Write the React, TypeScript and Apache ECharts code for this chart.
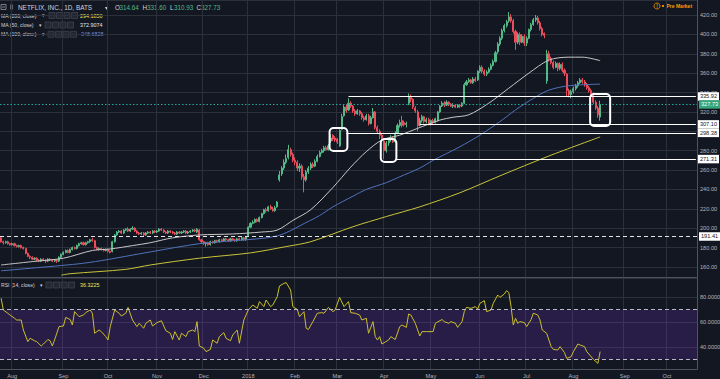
import React, { useEffect, useRef } from "react";
import * as echarts from "echarts";

// ---- axis / calendar data (trading-day index, 0 = 1 Aug 2017) ----
const FIRST_INDEX = -5;
const LAST_INDEX = 307;
const monthStarts = [0, 23, 43, 65, 86, 106, 127, 146, 167, 188, 210, 231, 252, 275, 294];
const monthLabels = ["Aug", "Sep", "Oct", "Nov", "Dec", "2018", "Feb", "Mar", "Apr", "May", "Jun", "Jul", "Aug", "Sep", "Oct"];

// ---- daily candles [open, close, low, high], starting at index -5 ----
const candleOHLC: number[][] = [
  [190,186,185,191],[186,185,183,187],[185,186,184,187],[186,184,183,187],[184,183,182,185],
  [183,184,182,185],[184,182,181,185],[182,181,180,183],[181,182,180,183],[182,180,179,183],
  [180,179,178,181],[179,174,173,180],[174,171,170,175],[171,170,168,172],[170,168,167,171],
  [168,169,167,170],[169,167,166,170],[167,166,165,168],[166,168,165,169],[168,167,166,169],
  [167,166,164,168],[166,168,165,169],[168,167,166,169],[167,166,165,168],[166,167,165,168],
  [167,166,164,168],[166,170,165,171],[170,173,169,174],[173,175,172,176],[175,177,174,178],
  [177,175,174,178],[175,178,174,179],[178,180,177,181],[180,179,178,181],[179,182,178,183],
  [182,184,181,185],[184,185,183,186],[185,183,182,186],[183,185,182,186],[185,186,184,187],
  [186,188,185,189],[188,187,186,190],[187,180,179,188],[180,178,177,181],[178,179,177,180],
  [179,178,177,180],[178,177,176,179],[177,178,176,179],[178,176,175,179],[176,175,174,177],
  [176,186,175,187],[186,193,185,194],[193,196,192,197],[196,197,195,198],[197,195,194,198],
  [195,198,194,199],[198,199,197,200],[199,197,196,201],[197,199,196,200],[199,200,198,202],
  [200,197,196,201],[197,195,194,198],[195,194,193,196],[194,195,193,196],[195,193,192,196],
  [193,195,192,196],[195,196,194,197],[196,195,194,197],[195,197,194,198],[197,196,195,198],
  [196,197,195,198],[197,199,196,200],[199,198,197,200],[198,196,195,199],[196,195,194,197],
  [195,197,194,198],[197,196,195,198],[196,195,194,197],[195,194,193,196],[194,196,193,197],
  [196,195,194,197],[195,196,194,197],[196,197,195,198],[197,195,194,198],[195,196,194,197],
  [196,197,195,198],[197,198,196,199],[198,197,196,199],[196,199,195,200],[198,188,187,199],
  [188,186,184,189],[186,184,183,187],[184,185,181,186],[185,183,182,186],[183,186,182,187],
  [186,185,184,187],[185,187,184,188],[187,186,185,188],[186,188,185,189],[188,187,186,189],
  [187,189,186,190],[189,188,187,190],[188,187,186,189],[187,189,186,190],[189,188,187,190],
  [188,187,186,189],[187,189,186,190],[189,188,187,190],[188,190,187,191],[190,188,187,191],
  [188,191,187,192],[192,201,191,202],[201,205,200,206],[205,206,204,208],[206,209,205,210],
  [209,207,206,210],[207,211,206,212],[211,215,210,216],[215,219,214,220],[219,218,216,221],
  [218,222,217,223],[222,220,219,224],[220,218,217,222],[218,221,217,223],[222,227,221,228],
  [250,255,248,259],[256,262,254,264],[262,268,260,271],[268,272,266,276],[273,281,271,286],
  [281,276,274,283],[276,270,268,278],[270,268,265,273],[268,262,259,270],[262,264,258,267],
  [264,253,250,266],[253,250,237,256],[250,258,248,260],[258,262,256,264],[262,266,260,268],
  [266,264,262,268],[264,269,263,271],[269,274,268,276],[274,278,273,280],[278,280,277,282],
  [280,283,278,285],[283,281,280,285],[281,285,280,287],[290,293,288,297],[296,292,290,297],
  [293,291,289,295],[292,289,287,293],[285,301,284,302],[302,315,301,318],[316,325,315,327],
  [325,321,319,328],[322,329,321,334],[329,326,324,331],[326,321,319,327],[321,318,316,323],
  [318,321,317,323],[321,318,316,322],[318,314,312,320],[314,312,310,316],[312,316,311,318],
  [316,308,306,318],[308,314,307,316],[314,320,313,324],[320,304,302,321],[304,300,298,306],
  [300,296,292,302],[296,293,290,298],[290,280,271.31,291],[280,288,278,290],[288,291,285,293],
  [291,293,289,296],[293,289,288,295],[289,298,288,300],[298,306,297,308],[306,309,304,312],
  [311,306,304,316],[309,307,305,311],[307,308,304,310],[329,336,327,339],[335,333,330,338],
  [333,325,323,334],[324,321,319,326],[320,306,300,322],[306,311,305,314],[311,315,309,317],
  [315,310,308,316],[310,312,308,314],[312,308,306,314],[308,311,306,312],[311,309,307,313],
  [309,313,308,314],[311,320,310,321],[320,326,319,327],[326,329,325,331],[329,327,325,331],
  [327,330,326,332],[330,328,326,331],[328,326,325,329],[326,327,324,329],[327,325,324,328],
  [325,327,324,328],[327,326,324,328],[326,329,325,330],[329,348,328,350],[348,351,347,353],
  [351,353,350,355],[353,350,349,354],[350,354,349,356],[354,352,351,356],[353,362,352,363],
  [362,366,360,368],[366,362,360,368],[362,359,357,364],[359,361,357,363],[361,364,360,366],
  [364,368,363,370],[368,372,367,374],[372,381,371,383],[382,390,380,392],[390,396,388,398],
  [396,404,394,406],[404,409,402,411],[409,413,407,415],[414,418,412,423],[418,414,412,421],
  [414,403,401,416],[403,392,384,405],[392,400,390,402],[400,392,389,402],[392,398,391,400],
  [398,391,388,400],[391,396,388,398],[396,405,395,406],[405,410,403,412],[410,415,409,417],
  [415,417,413,420],[417,412,410,419],[412,406,404,414],[406,400,398,408],[401,399,396,402],
  [352,380,349,384],[380,375,372,383],[375,371,369,377],[371,366,364,373],[366,370,365,372],
  [370,365,362,371],[365,369,363,371],[369,363,361,371],[363,360,357,365],[359,342,336,360],
  [342,338,335,344],[338,341,334,343],[341,344,339,346],[344,347,342,349],[347,350,345,352],
  [350,353,349,355],[353,351,349,355],[351,348,346,353],[348,345,343,350],[345,342,340,347],
  [342,338,336,344],[338,330,328,340],[330,324,322,332],[324,317,314,326],[314.64,327.73,310.93,331.6],
];

// ---- moving averages: [index, value] ----
const ma50Points: number[][] = [
  [-5,162],[9,165.5],[23,169],[36,177],[44,178.5],[54,182],[62,185],[72,190],[84,193],[99,194],
  [112,196],[119,198],[126,208],[134,219],[144,242],[152,263],[159,279],[166,291],[174,296],
  [182,303],[192,311.5],[198,314.5],[205,317],[214,329],[223,344.5],[232,360],[241,373.5],
  [250,376.5],[256,376.5],[264,372.9],
];
const ma100Points: number[][] = [
  [-5,156],[29,163],[40,166.5],[62,175.5],[84,184],[99,187],[119,192],[133,207],[138,213],
  [144,222],[153,233],[159,240],[168,247],[174,253],[183,262],[189,270],[201,284],[210,296],
  [219,310],[226,322],[234,334],[241,342.5],[250,347],[264,348.7],
];
const ma200Points: number[][] = [
  [22,151.5],[26,153],[51,157.5],[62,162],[84,169],[107,174.5],[123,181],[134,186],[153,201.5],
  [168,212],[183,222],[201,236.5],[219,254],[241,274.5],[264,294.2],
];

// ---- RSI(14): [index, value] ----
const rsiPoints: number[][] = [
  [-5,79],[-4,69.6],[-2,67],[-1,65.6],[1,63],[2,61.6],[4,61.6],[5,53.6],[7,44.3],[8,47],[10,45],
  [11,44.3],[13,40.8],[14,42.4],[16,46],[17,45],[18,40.8],[19,45.6],[21,56.3],[23,56.8],[24,63.7],
  [26,62],[27,57.6],[28,68.3],[30,64.3],[32,65.6],[33,67.5],[35,69.6],[36,67],[37,51],[39,53.6],
  [40,52.3],[42,48.3],[43,45.6],[44,56.3],[46,69.6],[48,67],[49,64.8],[51,67],[52,71.7],[54,61.6],
  [56,56.3],[57,59],[59,55],[60,59],[62,61.6],[63,56.8],[65,59.5],[67,61],[69,53],[71,51],[72,46],
  [73,52.3],[75,45.6],[76,51],[78,48.3],[79,52.3],[81,53.6],[82,52.3],[83,60.3],[84,40.8],[86,39],
  [87,36.3],[89,38.1],[90,45.6],[92,43],[93,48.3],[95,51.5],[96,47],[98,45],[99,49.6],[101,53.6],
  [102,43],[104,61.6],[106,69.6],[108,73.6],[110,71],[111,76.3],[113,72.3],[114,77.6],[116,72.3],
  [117,73.6],[119,80.3],[120,88.8],[122,90.9],[123,91.5],[125,85.6],[126,72.3],[128,70],[129,64.3],
  [131,68.3],[132,55],[133,54],[135,60.3],[137,67],[139,67.5],[140,67],[142,71.7],[144,68.3],
  [145,69.6],[147,79.7],[149,72.3],[151,76.3],[152,67.5],[154,67],[156,65.6],[157,61.6],[159,63],
  [160,51],[162,60.3],[163,48.3],[164,45.6],[165,48.3],[166,42.4],[169,45.6],[170,48.3],[172,46],
  [174,56.3],[175,57.6],[177,55.7],[178,66.4],[179,65.6],[181,59],[183,48.8],[184,52.3],[186,52.3],
  [189,52.3],[190,59],[193,62],[194,60.3],[196,59],[197,60.3],[199,59],[200,55.7],[202,60.3],
  [203,68.3],[204,71.7],[206,70.9],[208,72.3],[209,70.4],[210,74.9],[212,77.1],[213,68.3],[215,69.6],
  [216,74.9],[218,81.6],[219,79.7],[221,82.4],[222,85.1],[223,83.5],[224,72.3],[225,57.6],[226,63],
  [227,59],[228,60.3],[230,59.5],[231,56.3],[233,62],[234,67],[236,65.6],[237,61.6],[238,53.6],
  [240,51],[241,45.6],[242,40.3],[243,38.1],[245,37.6],[246,40.3],[248,35.5],[249,30.9],[251,32.3],
  [252,36.3],[254,42.4],[255,41.6],[257,40.3],[258,36.3],[261,30.1],[263,26.9],[264,36.32],
];

// ---- drawn levels and annotation boxes ----
const levelLines = [
  { price: 335.92, from: 151 },
  { price: 307.1, from: 183 },
  { price: 298.38, from: 150 },
  { price: 271.31, from: 172 },
];
const supportLevel = 191.41;
const lastClose = 327.73;
const annotationBoxes: number[][] = [
  [143, 150, 303.4, 279.6],
  [166, 172, 292, 268.3],
  [260, 268, 338.5, 305.5],
];
const rsiBands = [70, 30];
// price-axis ticks that the level tags fully cover in the reference
const hiddenPriceTicks = [300];

const BG = "#131722";
const GRID = "#2c303b";
const AXIS = "#50535e";
const TXT = "#b2b5be";
const UP = "#53b987";
const DOWN = "#eb4d5c";
const FONT = '"Liberation Sans", Arial, sans-serif';

const off = -FIRST_INDEX;
const cats: string[] = [];
for (let i = FIRST_INDEX; i <= LAST_INDEX; i++) cats.push("d" + i);
const labelByCat: Record<number, string> = {};
monthStarts.forEach((m, j) => (labelByCat[m + off] = monthLabels[j]));
const isMonth = (idx: number) => labelByCat[idx] !== undefined;
const shift = (pts: number[][]) => pts.map(([i, v]) => [i + off, v]);

const whiteLabel = (v: number) => ({
  show: true,
  position: "end",
  distance: 2,
  formatter: () => v.toFixed(2),
  backgroundColor: "#ffffff",
  color: "#131722",
  fontSize: 5.6,
  fontFamily: FONT,
  padding: [1.5, 2, 1, 2],
});

function txt(x: number, y: number, text: string, fill: string, size: number, weight = "normal") {
  return {
    type: "text",
    x,
    y,
    silent: true,
    style: { text, fill, font: `${weight} ${size}px ${FONT}`, verticalAlign: "middle", align: "left" },
  };
}
function squares(x0: number, yc: number) {
  const out: any[] = [];
  for (let n = 0; n < 4; n++) {
    out.push({
      type: "rect",
      silent: true,
      shape: { x: x0 + n * 7.5, y: yc - 3, width: 6, height: 6 },
      style: { fill: "#232733", stroke: "#3d414c", lineWidth: 0.8 },
    });
  }
  return out;
}

function buildOption() {
  const xBase = {
    type: "category",
    data: cats,
    boundaryGap: true,
    axisTick: { show: false },
    axisLine: { show: true, lineStyle: { color: AXIS, width: 1 } },
    splitLine: { show: true, interval: (idx: number) => isMonth(idx), lineStyle: { color: GRID, width: 1 } },
  };
  const graphic: any[] = [
    { type: "rect", silent: true, shape: { x: 1, y: 4.5, width: 5, height: 5 }, style: { fill: "none", stroke: "#9598a1", lineWidth: 0.8 } },
    { type: "line", silent: true, shape: { x1: 2, y1: 7, x2: 5, y2: 7 }, style: { stroke: "#9598a1", lineWidth: 0.8 } },
    { type: "rect", silent: true, shape: { x: 10, y: 4.5, width: 3, height: 5 }, style: { fill: "#5d606b" } },
    txt(18, 7.5, "NETFLIX, INC., 1D, BATS", "#d1d4dc", 6.4),
    txt(105, 7.5, "▾", "#d1d4dc", 5.5),
    txt(115, 7.5, "O", "#d1d4dc", 6.3), txt(119.5, 7.5, "314.64", UP, 6.3),
    txt(142.5, 7.5, "H", "#d1d4dc", 6.3), txt(147, 7.5, "331.60", UP, 6.3),
    txt(170, 7.5, "L", "#d1d4dc", 6.3), txt(174, 7.5, "310.93", UP, 6.3),
    txt(196.5, 7.5, "C", "#d1d4dc", 6.3), txt(201, 7.5, "327.73", UP, 6.3),
    txt(1, 15.5, "MA (200, close)", "#d1d4dc", 5.1), txt(42, 15.5, "▾", "#d1d4dc", 4.5),
    ...squares(49, 15.5), txt(80, 15.5, "294.1850", "#ece75a", 5.4),
    txt(1, 25, "MA (50, close)", "#d1d4dc", 5.1), txt(38.5, 25, "▾", "#d1d4dc", 4.5),
    ...squares(45, 25), txt(80, 25, "372.9074", "#e6e6e6", 5.4),
    txt(1, 34.3, "MA (100, close)", "#d1d4dc", 5.1), txt(42, 34.3, "▾", "#d1d4dc", 4.5),
    ...squares(48, 34.3), txt(81, 34.3, "348.6828", "#6f8fdc", 5.4),
    txt(1, 285, "RSI (14, close)", "#d1d4dc", 5.1), txt(39.5, 285, "▾", "#d1d4dc", 4.5),
    ...squares(46, 285), txt(80, 285, "36.3225", "#ece75a", 5.4),
    { type: "circle", silent: true, shape: { cx: 657, cy: 6, r: 3 }, style: { fill: "none", stroke: "#ff9800", lineWidth: 0.8 } },
    { type: "text", silent: true, x: 657, y: 6.3, style: { text: "!", fill: "#ff9800", font: `bold 4.5px ${FONT}`, align: "center", verticalAlign: "middle" } },
    { type: "circle", silent: true, shape: { cx: 663, cy: 6, r: 1.1 }, style: { fill: "#ff9800" } },
    txt(666.5, 6.2, "Pre Market", "#ff9800", 5, "bold"),
  ];

  const markLineData: any[] = [
    {
      yAxis: supportLevel,
      lineStyle: { type: [4, 3], color: "#e3e3e3", width: 1 },
      label: whiteLabel(supportLevel),
    },
    ...levelLines.map((l) => [
      { coord: [l.from + off, l.price], lineStyle: { type: "solid", color: "#ffffff", width: 1 }, label: whiteLabel(l.price) },
      { coord: [LAST_INDEX + off, l.price] },
    ]),
    {
      yAxis: lastClose,
      lineStyle: { type: [1.5, 2], color: "#26a69a", width: 1 },
      label: { ...whiteLabel(lastClose), backgroundColor: "#35a57c", color: "#ffffff" },
    },
  ];

  return {
    animation: false,
    backgroundColor: BG,
    textStyle: { fontFamily: FONT },
    graphic,
    grid: [
      { left: 0, right: 23, top: 0, height: 277, outerBoundsMode: "none" },
      { left: 0, right: 23, top: 278, height: 91, outerBoundsMode: "none" },
    ],
    xAxis: [
      { ...xBase, gridIndex: 0, axisLabel: { show: false } },
      {
        ...xBase,
        gridIndex: 1,
        axisLabel: {
          show: true,
          interval: (idx: number) => isMonth(idx),
          formatter: (_v: string, idx: number) => labelByCat[idx] ?? "",
          color: TXT,
          fontSize: 5.6,
          margin: 4,
          fontFamily: FONT,
        },
      },
    ],
    yAxis: [
      {
        type: "value",
        gridIndex: 0,
        position: "right",
        min: 149.6,
        max: 435.5,
        splitNumber: 14,
        minInterval: 20,
        maxInterval: 20,
        axisLine: { show: true, lineStyle: { color: AXIS } },
        axisTick: { show: false },
        splitLine: { show: true, lineStyle: { color: GRID } },
        axisLabel: {
          color: TXT,
          fontSize: 5.6,
          margin: 3,
          fontFamily: FONT,
          formatter: (v: number) =>
            Math.abs(v % 20) < 1e-6 && !hiddenPriceTicks.includes(Math.round(v)) ? v.toFixed(2) : "",
        },
      },
      {
        type: "value",
        gridIndex: 1,
        position: "right",
        min: 22.4,
        max: 95.2,
        splitNumber: 4,
        minInterval: 20,
        maxInterval: 20,
        axisLine: { show: true, lineStyle: { color: AXIS } },
        axisTick: { show: false },
        splitLine: { show: true, lineStyle: { color: GRID } },
        axisLabel: {
          color: TXT,
          fontSize: 5.6,
          margin: 3,
          fontFamily: FONT,
          formatter: (v: number) => (Math.abs(v % 20) < 1e-6 ? v.toFixed(4) : ""),
        },
      },
    ],
    series: [
      {
        type: "candlestick",
        xAxisIndex: 0,
        yAxisIndex: 0,
        barWidth: "70%",
        data: candleOHLC,
        itemStyle: { color: UP, color0: DOWN, borderColor: UP, borderColor0: DOWN, borderWidth: 1 },
        markLine: { silent: true, symbol: ["none", "none"], animation: false, data: markLineData },
        z: 2,
      },
      {
        type: "line", xAxisIndex: 0, yAxisIndex: 0, data: shift(ma200Points), showSymbol: false,
        smooth: 0.3, lineStyle: { color: "#c9c43a", width: 1 }, z: 3, silent: true,
      },
      {
        type: "line", xAxisIndex: 0, yAxisIndex: 0, data: shift(ma100Points), showSymbol: false,
        smooth: 0.3, lineStyle: { color: "#4f73bb", width: 1 }, z: 3, silent: true,
      },
      {
        type: "line", xAxisIndex: 0, yAxisIndex: 0, data: shift(ma50Points), showSymbol: false,
        smooth: 0.3, lineStyle: { color: "#c8c8c8", width: 1 }, z: 3, silent: true,
      },
      {
        type: "custom",
        xAxisIndex: 0,
        yAxisIndex: 0,
        z: 6,
        silent: true,
        data: annotationBoxes.map(([a, b, top, bot]) => [a + off, b + off, top, bot]),
        encode: { x: [0, 1], y: [2, 3] },
        renderItem: (_p: any, api: any) => {
          const band = api.size([1, 0])[0];
          const p0 = api.coord([api.value(0), api.value(2)]);
          const p1 = api.coord([api.value(1), api.value(3)]);
          const x = p0[0] - band / 2;
          return {
            type: "rect",
            shape: { x, y: p0[1], width: p1[0] + band / 2 - x, height: p1[1] - p0[1], r: 4 },
            style: { fill: "none", stroke: "#ffffff", lineWidth: 2 },
          };
        },
      },
      {
        type: "line",
        xAxisIndex: 1,
        yAxisIndex: 1,
        data: shift(rsiPoints),
        showSymbol: false,
        lineStyle: { color: "#cbbf2c", width: 1 },
        z: 3,
        silent: true,
        markArea: {
          silent: true,
          itemStyle: { color: "rgba(119,53,214,0.2)" },
          data: [[{ yAxis: rsiBands[1] }, { yAxis: rsiBands[0] }]],
        },
        markLine: {
          silent: true,
          symbol: ["none", "none"],
          label: { show: false },
          lineStyle: { type: [4, 3], color: "#b7bac3", width: 1 },
          data: rsiBands.map((b) => ({ yAxis: b })),
        },
      },
    ],
  };
}

export default function App() {
  const ref = useRef<HTMLDivElement>(null);
  useEffect(() => {
    const chart = echarts.init(ref.current!, null, { renderer: "svg" });
    chart.setOption(buildOption() as any);
    return () => chart.dispose();
  }, []);
  return <div ref={ref} style={{ position: "fixed", left: 0, top: 0, width: 720, height: 379 }} />;
}
